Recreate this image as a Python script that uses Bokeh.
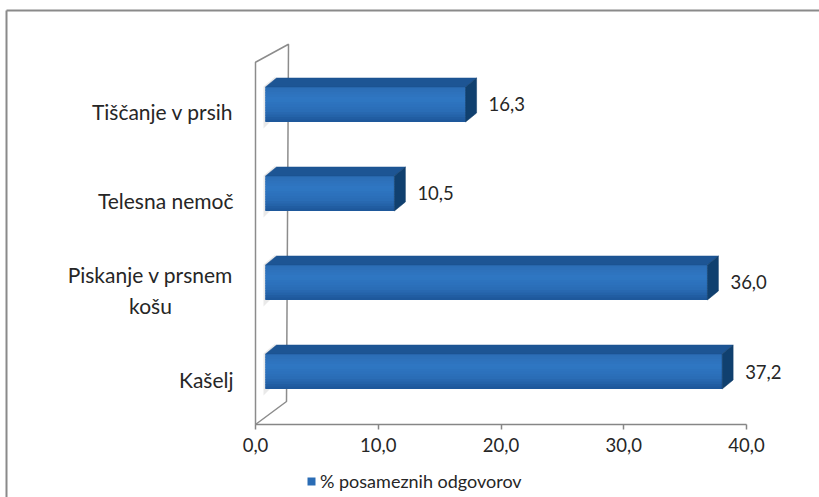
from bokeh.plotting import figure
from bokeh.models import Range1d, LinearAxis, FixedTicker, Legend, LegendItem, ColumnDataSource
from bokeh.core.properties import value
from bokeh.embed import file_html
from bokeh.resources import INLINE

# ---- data ----
categories = ["Kašelj", "Piskanje v prsnem\nkošu", "Telesna nemoč", "Tiščanje v prsih"]
values = [37.2, 36.0, 10.5, 16.3]
value_labels = ["37,2", "36,0", "10,5", "16,3"]
tick_values = [0, 10, 20, 30, 40]
tick_labels = ["0,0", "10,0", "20,0", "30,0", "40,0"]
series_name = "% posameznih odgovorov"

# ---- layout / style ----
W, H = 819, 497
X0, X1 = -20.774, 45.947
Y0, Y1 = -0.8202, 4.764
sx = W / (X1 - X0)
sy = H / (Y1 - Y0)
def px_x(d): return d / sx
def px_y(d): return d / sy

FONT = value("Lato")
TXT = "#262626"
GRAY = "#8c8c8c"

p = figure(width=W, height=H, x_range=Range1d(X0, X1), y_range=Range1d(Y0, Y1),
           output_backend="svg", toolbar_location=None,
           x_axis_location=None, y_axis_location=None, min_border=0,
           outline_line_color=None, background_fill_color="white")
p.grid.visible = False

# outer border
p.segment(x0=[X0 + px_x(6), X0 + px_x(6)], y0=[Y1 - px_y(10), Y1 - px_y(10)],
          x1=[X1, X0 + px_x(6)], y1=[Y1 - px_y(10), Y0],
          line_color="#8a8a8a", line_width=2)

# side wall (3D)
wall_top = 4.07
wx = [0, 0, px_x(33), px_x(31)]
wy = [0, wall_top, wall_top + px_y(18), px_y(23)]
p.patch(wx, wy, fill_color="white", line_color=GRAY, line_width=1.5)

# wall shadows near bars
sh_xs, sh_ys = [], []
for k, v in enumerate(values):
    yc = k + 0.5 + px_y(8.5)
    sh_xs.append([px_x(8), px_x(20), px_x(20), px_x(8)])
    sh_ys.append([yc - px_y(24), yc - px_y(12), yc + px_y(28), yc + px_y(18)])
p.patches(sh_xs, sh_ys, fill_color="#9a9a9a", fill_alpha=0.22, line_color=None)

def hex2rgb(h):
    h = h.lstrip("#")
    return tuple(int(h[i:i+2], 16) for i in (0, 2, 4))
def rgb2hex(c):
    return "#%02x%02x%02x" % tuple(int(round(x)) for x in c)
def lerp(a, b, t):
    A, B = hex2rgb(a), hex2rgb(b)
    return rgb2hex([A[i] + (B[i] - A[i]) * t for i in range(3)])

stops = [(0.0, "#2c6db5"), (0.35, "#2f77c3"), (0.7, "#2a6cb5"), (1.0, "#1c5597")]
def grad(t):
    for (t0, c0), (t1, c1) in zip(stops[:-1], stops[1:]):
        if t0 <= t <= t1:
            return lerp(c0, c1, (t - t0) / (t1 - t0))
    return stops[-1][1]

NB = 14
HALF = 17.5
bl, br, bt, bb = [], [], [], []
fl, fr, ft, fb, fc = [], [], [], [], []
top_xs, top_ys, side_xs, side_ys = [], [], [], []
for k, v in enumerate(values):
    yc = k + 0.5 + px_y(8.5)
    x_left = px_x(10)
    x_right = v + px_x(10)
    y_top = yc + px_y(HALF)
    y_bot = yc - px_y(HALF)
    bl.append(x_left); br.append(x_right); bt.append(y_top); bb.append(y_bot)
    for b in range(NB):
        t0 = b / NB
        t1 = (b + 1) / NB
        fl.append(x_left)
        fr.append(x_right)
        ft.append(y_top - (y_top - y_bot) * t0)
        fb.append(max(y_bot, y_top - (y_top - y_bot) * t1 - px_y(1.5)))
        fc.append(grad((t0 + t1) / 2))
    dx, dy = px_x(11), px_y(9)
    top_xs.append([x_left, x_right, x_right + dx, x_left + dx])
    top_ys.append([y_top, y_top, y_top + dy, y_top + dy])
    side_xs.append([x_right, x_right, x_right + dx, x_right + dx])
    side_ys.append([y_bot, y_top, y_top + dy, y_bot + dy])

base = p.quad(left=bl, right=br, top=bt, bottom=bb, fill_color="#2a6cb5", line_color=None)
front = p.quad(left=fl, right=fr, top=ft, bottom=fb, fill_color=fc, line_color=None)
p.patches(top_xs, top_ys, fill_color="#1d5594", line_color="#1a4f8c", line_width=0.5)
p.patches(side_xs, side_ys, fill_color="#10406f", line_color="#0e3a66", line_width=0.5)

# value labels
vl = ColumnDataSource(dict(x=[v + px_x(33) for v in values],
                           y=[k + 0.5 + px_y(8.5) for k in range(len(values))],
                           t=value_labels))
p.text(x="x", y="y", text="t", source=vl, text_font=FONT, text_font_size="18.5px",
       text_color=TXT, text_align="left", text_baseline="middle")

# category labels
for k, c in enumerate(categories):
    if "\n" in c:
        p.text(x=[px_x(150 - 255)], y=[k + 0.5 + px_y(1)], text=[c], text_font=FONT,
               text_font_size="21px", text_color=TXT, text_align="center",
               text_baseline="middle", text_line_height=1.25)
    else:
        p.text(x=[px_x(233 - 255)], y=[k + 0.5 + px_y(1)], text=[c], text_font=FONT,
               text_font_size="21px", text_color=TXT, text_align="right",
               text_baseline="middle")

# value axis
xaxis = LinearAxis(fixed_location=0, bounds=(0, 40), ticker=FixedTicker(ticks=tick_values),
                   major_label_overrides={t: l for t, l in zip(tick_values, tick_labels)})
xaxis.axis_line_color = "#868686"
xaxis.axis_line_width = 1.5
xaxis.major_tick_line_color = "#868686"
xaxis.major_tick_line_width = 1.5
xaxis.major_tick_out = 5
xaxis.major_tick_in = 0
xaxis.minor_tick_line_color = None
xaxis.major_label_text_font = "Lato"
xaxis.major_label_text_font_size = "18.5px"
xaxis.major_label_text_color = TXT
xaxis.major_label_standoff = 8
p.add_layout(xaxis, "below")

legend = Legend(items=[LegendItem(label=series_name, renderers=[base], index=0)],
                location=(306, 5), orientation="horizontal", glyph_width=10, glyph_height=10,
                label_text_font="Lato", label_text_font_size="18px", label_text_color=TXT,
                label_standoff=4, padding=0, margin=0, border_line_color=None,
                background_fill_alpha=0, label_height=20)
p.add_layout(legend)

open("out.html", "w").write(file_html(p, INLINE))
